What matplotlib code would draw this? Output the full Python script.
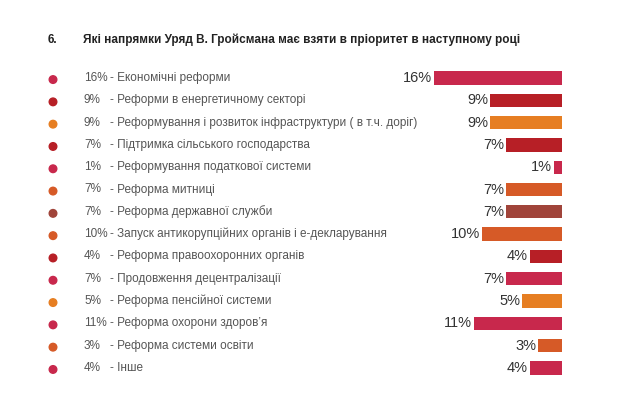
import matplotlib.pyplot as plt
import matplotlib.transforms as mtransforms

# data
labels = [
    "Економічні реформи",
    "Реформи в енергетичному секторі",
    "Реформування і розвиток інфраструктури ( в т.ч. доріг)",
    "Підтримка сільського господарства",
    "Реформування податкової системи",
    "Реформа митниці",
    "Реформа державної служби",
    "Запуск антикорупційних органів і е-декларування",
    "Реформа правоохоронних органів",
    "Продовження децентралізації",
    "Реформа пенсійної системи",
    "Реформа охорони здоров’я",
    "Реформа системи освіти",
    "Інше",
]
values = [16, 9, 9, 7, 1, 7, 7, 10, 4, 7, 5, 11, 3, 4]
colors = ["#C8284C", "#B71F26", "#E67E22", "#B71F26", "#C8284C", "#D65A27", "#A0443A",
          "#D65A27", "#B71F26", "#C8284C", "#E67E22", "#C8284C", "#D65A27", "#C8284C"]

title = "Які напрямки Уряд В. Гройсмана має взяти в пріоритет в наступному році"

plt.rcParams['font.family'] = ['Liberation Sans', 'DejaVu Sans']

W, H = 624, 393
fig = plt.figure(figsize=(W / 100, H / 100), dpi=100)

# bar axes: right edge at x=562px, 8 px per percent
x_right = 562
px_per = 8
top_row, row_step = 78, 22.3
n = len(values)
y_top = top_row - row_step / 2
y_bot = top_row + (n - 1) * row_step + row_step / 2
ax = fig.add_axes([(x_right - 16 * px_per) / W, 1 - y_bot / H,
                   16 * px_per / W, (y_bot - y_top) / H])
ax.set_xlim(16, 0)
ax.set_ylim(n - 0.5, -0.5)
ax.axis('off')

ys = list(range(n))
ax.barh(ys, values, height=0.6, color=colors)

for y, v in zip(ys, values):
    ax.text(v, y, f"{v}%", ha='right', va='center', fontsize=10.5, color='#333333',
            transform=mtransforms.offset_copy(ax.transData, fig=fig, x=-2, y=0, units='dots'),
            clip_on=False)

# left legend column
trans = mtransforms.blended_transform_factory(fig.transFigure, ax.transData)
ax.scatter([53 / W] * n, [y + 0.07 for y in ys], s=30, color=colors, transform=trans,
           clip_on=False, zorder=3)
for y, v, lab in zip(ys, values, labels):
    ax.text(84 / W, y, f"{v}%", ha='left', va='center', fontsize=8.5, color='#555555',
            transform=trans)
    ax.text(110 / W, y, f"- {lab}", ha='left', va='center', fontsize=8.5, color='#555555',
            transform=trans)

# title
fig.text(48 / W, 1 - 40 / H, "6.", ha='left', va='center', fontsize=8.5,
         fontweight='bold', color='#222222')
fig.text(83 / W, 1 - 40 / H, title, ha='left', va='center', fontsize=8.5,
         fontweight='bold', color='#222222')

fig.savefig("out.png", dpi=100, facecolor='white')
